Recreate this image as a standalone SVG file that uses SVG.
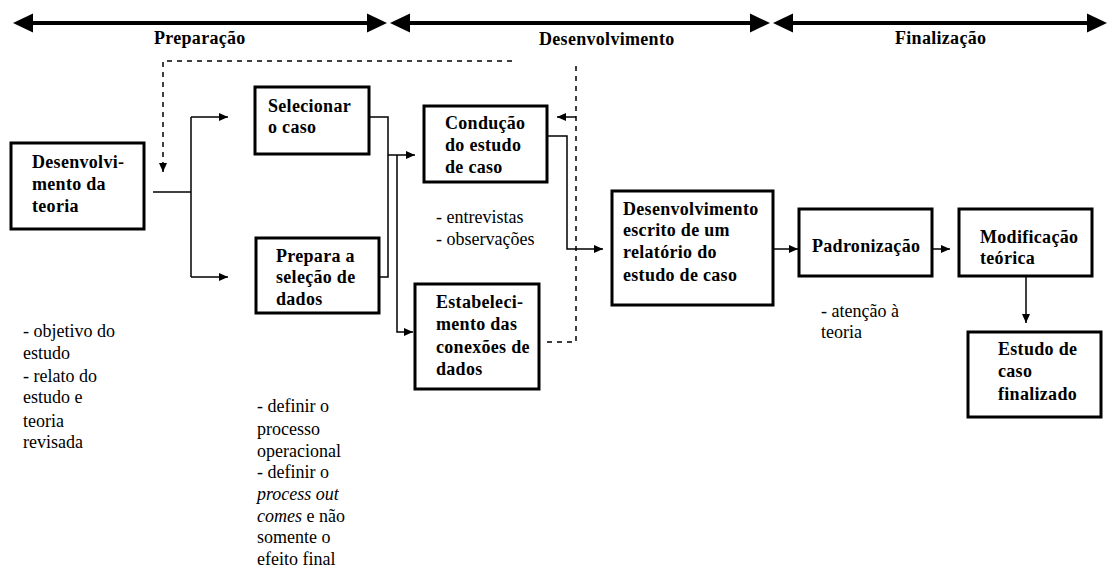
<svg xmlns="http://www.w3.org/2000/svg" width="1108" height="571" viewBox="0 0 1108 571">
  <style>
    .box { fill: #ffffff; stroke: #000000; stroke-width: 3; }
    .b { font-family: "Liberation Serif", "DejaVu Serif", serif; font-weight: bold; font-size: 18px; letter-spacing: 0.3px; fill: #000000; }
    .n { font-family: "Liberation Serif", "DejaVu Serif", serif; font-size: 18px; fill: #000000; }
    .i { font-style: italic; }
    .wire { fill: none; stroke: #000000; stroke-width: 1.5; }
    .dash { fill: none; stroke: #000000; stroke-width: 1.5; stroke-dasharray: 5 5; }
    .phase { stroke: #000000; stroke-width: 4; }
  </style>
  <defs>
    <marker id="head" markerUnits="userSpaceOnUse" markerWidth="10" markerHeight="9" refX="9" refY="4" orient="auto">
      <path d="M0,0 L9,4 L0,8 z" fill="#000000"/>
    </marker>
  </defs>
  <rect x="0" y="0" width="1108" height="571" fill="#ffffff"/>

  <!-- phase bar -->
  <g id="phases">
    <line class="phase" x1="28" y1="23" x2="372" y2="23"/>
    <polygon points="13,23 33,13.5 33,32.5"/>
    <polygon points="387,23 367,13.5 367,32.5"/>
    <line class="phase" x1="405" y1="23" x2="755" y2="23"/>
    <polygon points="390,23 410,13.5 410,32.5"/>
    <polygon points="770,23 750,13.5 750,32.5"/>
    <line class="phase" x1="788" y1="23" x2="1092" y2="23"/>
    <polygon points="773,23 793,13.5 793,32.5"/>
    <polygon points="1107,23 1087,13.5 1087,32.5"/>
    <text class="b" x="154" y="44">Preparação</text>
    <text class="b" x="539" y="45">Desenvolvimento</text>
    <text class="b" x="895" y="44">Finalização</text>
  </g>

  <!-- connectors -->
  <g id="connectors">
    <path class="wire" d="M153,192 H191"/>
    <path class="wire" d="M191,117 V277"/>
    <path class="wire" d="M191,117 H228" marker-end="url(#head)"/>
    <path class="wire" d="M191,277 H228" marker-end="url(#head)"/>
    <path class="wire" d="M369,117 H388 V277 H379"/>
    <path class="wire" d="M388,155 H415" marker-end="url(#head)"/>
    <path class="wire" d="M397,155 V332 H413" marker-end="url(#head)"/>
    <path class="wire" d="M547,136 H567 V249 H603" marker-end="url(#head)"/>
    <path class="wire" d="M773,249 H798" marker-end="url(#head)"/>
    <path class="wire" d="M932,249 H950" marker-end="url(#head)"/>
    <path class="wire" d="M1026,276 V323" marker-end="url(#head)"/>
    <!-- feedback loop -->
    <path class="dash" d="M512,61 H163 V163"/>
    <path class="wire" d="M163,163 V172" marker-end="url(#head)"/>
    <path class="dash" d="M547,342 H576 V61"/>
    <path class="wire" d="M576,117 H557" marker-end="url(#head)"/>
  </g>

  <g id="teoria">
    <rect class="box" x="11" y="143" width="133" height="86"/>
    <text class="b" x="32" y="168">Desenvolvi-</text>
    <text class="b" x="32" y="190">mento da</text>
    <text class="b" x="32" y="212">teoria</text>
  </g>

  <g id="selecionar">
    <rect class="box" x="255" y="87" width="114" height="67"/>
    <text class="b" x="268" y="112">Selecionar</text>
    <text class="b" x="268" y="133">o caso</text>
  </g>

  <g id="prepara">
    <rect class="box" x="256" y="238" width="123" height="75"/>
    <text class="b" x="276" y="262">Prepara a</text>
    <text class="b" x="276" y="283">seleção de</text>
    <text class="b" x="276" y="305">dados</text>
  </g>

  <g id="conducao">
    <rect class="box" x="424" y="106" width="123" height="76"/>
    <text class="b" x="445" y="129">Condução</text>
    <text class="b" x="445" y="151">do estudo</text>
    <text class="b" x="445" y="173">de caso</text>
  </g>

  <g id="estabelecimento">
    <rect class="box" x="415" y="284" width="124" height="105"/>
    <text class="b" x="436" y="308">Estabeleci-</text>
    <text class="b" x="436" y="330">mento das</text>
    <text class="b" x="436" y="353">conexões de</text>
    <text class="b" x="436" y="375">dados</text>
  </g>

  <g id="relatorio">
    <rect class="box" x="612" y="191" width="161" height="114"/>
    <text class="b" x="623" y="215">Desenvolvimento</text>
    <text class="b" x="623" y="236">escrito de um</text>
    <text class="b" x="623" y="258">relatório do</text>
    <text class="b" x="623" y="281">estudo de caso</text>
  </g>

  <g id="padronizacao">
    <rect class="box" x="799" y="209" width="133" height="67"/>
    <text class="b" x="812" y="252">Padronização</text>
  </g>

  <g id="modificacao">
    <rect class="box" x="959" y="209" width="133" height="67"/>
    <text class="b" x="980" y="243">Modificação</text>
    <text class="b" x="980" y="264">teórica</text>
  </g>

  <g id="finalizado">
    <rect class="box" x="968" y="332" width="133" height="85"/>
    <text class="b" x="998" y="355">Estudo de</text>
    <text class="b" x="998" y="377">caso</text>
    <text class="b" x="998" y="400">finalizado</text>
  </g>

  <!-- notes -->
  <g id="notas-teoria">
    <text class="n" x="23" y="337">- objetivo do</text>
    <text class="n" x="23" y="359">estudo</text>
    <text class="n" x="23" y="382">- relato do</text>
    <text class="n" x="23" y="403">estudo e</text>
    <text class="n" x="23" y="427">teoria</text>
    <text class="n" x="23" y="448">revisada</text>
  </g>

  <g id="notas-selecao">
    <text class="n" x="257" y="412">- definir o</text>
    <text class="n" x="257" y="435">processo</text>
    <text class="n" x="257" y="457">operacional</text>
    <text class="n" x="257" y="478">- definir o</text>
    <text class="n i" x="257" y="500">process out</text>
    <text class="n" x="257" y="522"><tspan class="i">comes</tspan> e não</text>
    <text class="n" x="257" y="543">somente o</text>
    <text class="n" x="257" y="565">efeito final</text>
  </g>

  <g id="notas-conducao">
    <text class="n" x="436" y="223">- entrevistas</text>
    <text class="n" x="436" y="245">- observações</text>
  </g>

  <g id="notas-padronizacao">
    <text class="n" x="821" y="317">- atenção à</text>
    <text class="n" x="821" y="338">teoria</text>
  </g>
</svg>
